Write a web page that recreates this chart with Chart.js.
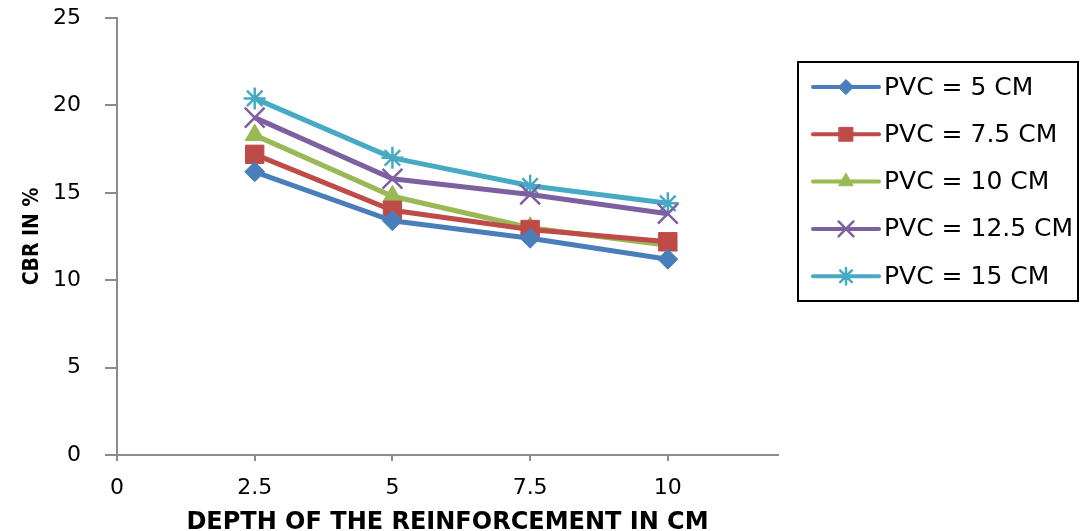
<!DOCTYPE html>
<html>
<head>
<meta charset="utf-8">
<script src="https://cdn.jsdelivr.net/npm/chart.js@4"></script>
<style>
  html, body { margin: 0; padding: 0; background: #fff; }
  #wrap { width: 1085px; height: 531px; }
</style>
</head>
<body>
<div id="wrap"><canvas id="cbr" width="1085" height="531"></canvas></div>
<script>
// depth of reinforcement (cm)
const depths = [2.5, 5, 7.5, 10];
const xTicks = [0, 2.5, 5, 7.5, 10];
const yTicks = [0, 5, 10, 15, 20, 25];

// CBR values (%) per PVC length
const pvc5 = [16.2, 13.4, 12.4, 11.2];
const pvc75 = [17.2, 14.0, 12.9, 12.2];
const pvc10 = [18.3, 14.8, 13.0, 12.0];
const pvc125 = [19.3, 15.8, 14.9, 13.8];
const pvc15 = [20.4, 17.0, 15.4, 14.4];

const seriesLabels = ['PVC = 5 CM', 'PVC = 7.5 CM', 'PVC = 10 CM', 'PVC = 12.5 CM', 'PVC = 15 CM'];

const sans = '"DejaVu Sans", "Open Sans", sans-serif';
const tickFont = { family: sans, size: 22 };
const axisGrey = '#8c8c8c';

const mk = (label, values, color, pointStyle, radius, bw) => ({
    label,
    data: values.map((v, i) => ({ x: depths[i], y: v })),
    borderColor: color,
    backgroundColor: color,
    borderWidth: 5,
    pointStyle,
    pointRadius: radius,
    pointBorderColor: color,
    pointBackgroundColor: color,
    pointBorderWidth: bw
});

const datasets = [
    mk(seriesLabels[0], pvc5, '#4A7EBB', 'rectRot', 10, 1),
    mk(seriesLabels[1], pvc75, '#BE4B48', 'rect', 13, 1),
    mk(seriesLabels[2], pvc10, '#98B954', 'triangle', 11, 1),
    mk(seriesLabels[3], pvc125, '#7D60A0', 'crossRot', 14, 2.5),
    mk(seriesLabels[4], pvc15, '#46AAC5', 'star', 11, 2.5)
];

// legend drawn by hand: framed box, each row a short line with its marker and label
const boxLegend = {
    id: 'boxLegend',
    afterDraw(chart) {
        const ctx = chart.ctx;
        const left = 798, top = 62, right = 1078, bottom = 301;
        ctx.save();
        ctx.strokeStyle = '#000';
        ctx.lineWidth = 2;
        ctx.strokeRect(left, top, right - left, bottom - top);

        chart.data.datasets.forEach((ds, i) => {
            const y = 87 + i * 47.3;
            ctx.strokeStyle = ds.borderColor;
            ctx.lineWidth = 4;
            ctx.lineCap = 'round';
            ctx.beginPath();
            ctx.moveTo(813, y);
            ctx.lineTo(879, y);
            ctx.stroke();

            ctx.fillStyle = ds.backgroundColor;
            ctx.lineWidth = ds.pointBorderWidth;
            Chart.helpers.drawPoint(ctx, {
                pointStyle: ds.pointStyle,
                radius: ds.pointRadius * 0.75,
                borderWidth: ds.pointBorderWidth,
                rotation: 0
            }, 846, y);

            ctx.fillStyle = '#000';
            ctx.font = '25px ' + sans;
            ctx.textBaseline = 'middle';
            ctx.textAlign = 'left';
            ctx.fillText(ds.label, 884, y + 1);
        });
        ctx.restore();
    }
};

new Chart(document.getElementById('cbr'), {
    type: 'line',
    data: { datasets },
    plugins: [boxLegend],
    options: {
        responsive: false,
        animation: false,
        layout: { padding: { top: 18, right: 307, left: 0, bottom: 0 } },
        plugins: {
            legend: { display: false },
            tooltip: { enabled: false }
        },
        scales: {
            x: {
                type: 'linear',
                min: 0,
                max: 12,
                afterBuildTicks: ax => { ax.ticks = xTicks.map(v => ({ value: v })); },
                afterFit: ax => { ax.height = 76; },
                ticks: { color: '#000', font: tickFont, padding: 14, maxRotation: 0 },
                grid: { drawOnChartArea: false, drawTicks: true, tickLength: 6, color: axisGrey, lineWidth: 2 },
                border: { color: axisGrey, width: 2 },
                title: {
                    display: true,
                    text: 'DEPTH OF THE REINFORCEMENT IN CM',
                    color: '#000',
                    font: { family: sans, size: 24, weight: 'bold', lineHeight: 1 },
                    padding: { top: 0, bottom: -4 }
                }
            },
            y: {
                min: 0,
                max: 25,
                afterBuildTicks: ax => { ax.ticks = yTicks.map(v => ({ value: v })); },
                afterFit: ax => { ax.width = 117; ax.paddingTop = 0; ax.paddingBottom = 0; },
                ticks: { color: '#000', font: tickFont, padding: 24 },
                grid: { drawOnChartArea: false, drawTicks: true, tickLength: 12, color: axisGrey, lineWidth: 2 },
                border: { color: axisGrey, width: 2 },
                title: {
                    display: true,
                    text: 'CBR IN %',
                    color: '#000',
                    font: { family: '"Liberation Sans Narrow", "DejaVu Sans Condensed", sans-serif', size: 21, weight: 'bold' },
                    padding: { top: 20, bottom: 0 }
                }
            }
        }
    }
});
</script>
</body>
</html>
